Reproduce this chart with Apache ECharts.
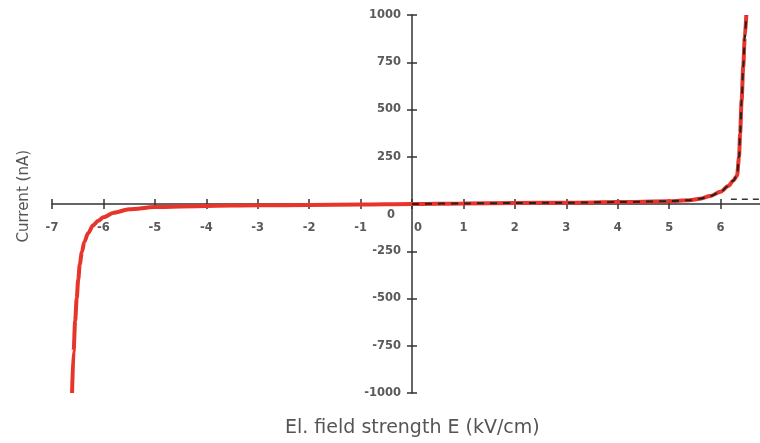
<!DOCTYPE html>
<html><head><meta charset="utf-8">
<script src="https://cdn.jsdelivr.net/npm/echarts@6/dist/echarts.min.js"></script>
<style>html,body{margin:0;padding:0;background:#fff}#c{width:760px;height:443px}</style>
</head><body><div id="c"></div>
<script>
var fieldRed = [-6.61,-6.58,-6.55,-6.52,-6.49,-6.46,-6.42,-6.37,-6.3,-6.2,-6.1,-6.0,-5.8,-5.5,-5,-4,-3,-2,-1,0,1,2,3,4,5,5.4,5.6,5.8,6.0,6.15,6.25,6.32,6.36,6.38,6.41,6.44,6.47,6.5];
var currentRed = [-1000,-780,-620,-500,-400,-320,-255,-200,-155,-112,-88,-70,-46,-28,-16,-10,-7,-5,-3,0,3,5,7,10,15,20,28,42,65,95,125,150,250,375,550,725,880,1000];
var fieldDash = [0,1,2,3,4,5,5.4,5.6,5.8,6.0,6.15,6.25,6.32,6.36,6.38,6.41,6.44,6.47,6.5];
var currentDash = [0,3,5,7,10,15,20,28,42,65,95,125,150,250,375,550,725,880,1000];
var fieldTail = [6.2,7];
var currentTail = [25,25];
var xTicks = [-7,-6,-5,-4,-3,-2,-1,0,1,2,3,4,5,6,7];
var yTicks = [-1000,-750,-500,-250,0,250,500,750,1000];

function pairs(xs, ys){ return xs.map(function(x,i){ return [x, ys[i]]; }); }
var W = 760, H = 443;
var gridLeft = 52, gridRight = -12, gridTop = 15, gridBottom = 50;
var plotW = W - gridLeft - gridRight, plotH = H - gridTop - gridBottom;
var xMin = xTicks[0], xMax = xTicks[xTicks.length-1];
var yMin = yTicks[0], yMax = yTicks[yTicks.length-1];
// shift axes so that they cross at the zero of the other axis
var xOffset = -plotH * (0 - yMin) / (yMax - yMin);
var yOffset = -plotW * (0 - xMin) / (xMax - xMin);

var chart = echarts.init(document.getElementById('c'));
var lblFont = {fontFamily:'DejaVu Sans', fontSize:11.5, fontWeight:'bold', color:'#5a5a5a'};
var tickStyle = {color:'#333', width:1.5};
chart.setOption({
  animation:false,
  grid:{left:gridLeft, right:gridRight, top:gridTop, bottom:gridBottom, outerBoundsMode:'none', containLabel:false},
  xAxis:[{
    type:'value', min:xMin, max:xMax, interval:1, position:'bottom', offset:xOffset,
    axisLine:{onZero:false, lineStyle:{color:'#333', width:1.5}},
    axisTick:{inside:false, length:5, lineStyle:tickStyle},
    splitLine:{show:false},
    axisLabel:Object.assign({margin:18, formatter:function(v){ return v===0 ? '{z|0}' : String(v); },
      rich:{z:Object.assign({padding:[0,0,0,12]}, lblFont)}}, lblFont)
  },{
    type:'value', min:xMin, max:xMax, interval:1, position:'bottom', offset:xOffset,
    axisLine:{onZero:false, show:false},
    axisTick:{inside:true, length:5, lineStyle:tickStyle},
    splitLine:{show:false}, axisLabel:{show:false}
  }],
  yAxis:[{
    type:'value', min:yMin, max:yMax, interval:250, position:'left', offset:yOffset,
    axisLine:{onZero:false, lineStyle:{color:'#333', width:1.5}},
    axisTick:{inside:false, length:5, lineStyle:tickStyle},
    splitLine:{show:false},
    axisLabel:Object.assign({margin:11, formatter:function(v){ return v===0 ? '{z|0}' : String(v); },
      rich:{z:Object.assign({padding:[22,6,0,0]}, lblFont)}}, lblFont)
  },{
    type:'value', min:yMin, max:yMax, interval:250, position:'left', offset:yOffset,
    axisLine:{onZero:false, show:false},
    axisTick:{inside:true, length:5, lineStyle:tickStyle},
    splitLine:{show:false}, axisLabel:{show:false}
  }],
  graphic:[
    {type:'text', left:285, top:419, style:{text:'El. field strength E (kV/cm)', fill:'#555', font:'19px "DejaVu Sans"'}},
    {type:'text', left:17, top:150, rotation:Math.PI/2, style:{text:'Current (nA)', fill:'#555', font:'15px "DejaVu Sans"'}}
  ],
  series:[
    {type:'line', data:pairs(fieldRed,currentRed), showSymbol:false, smooth:0.3, smoothMonotone:'x',
     lineStyle:{color:'#e8352b', width:4}, z:3},
    {type:'line', data:pairs(fieldDash,currentDash), showSymbol:false, smooth:0.3, smoothMonotone:'x',
     lineStyle:{color:'#222', width:2, type:[7,6]}, z:4},
    {type:'line', data:pairs(fieldTail,currentTail), showSymbol:false,
     lineStyle:{color:'#333', width:1.5, type:[6,5]}, z:4}
  ]
});
</script></body></html>
